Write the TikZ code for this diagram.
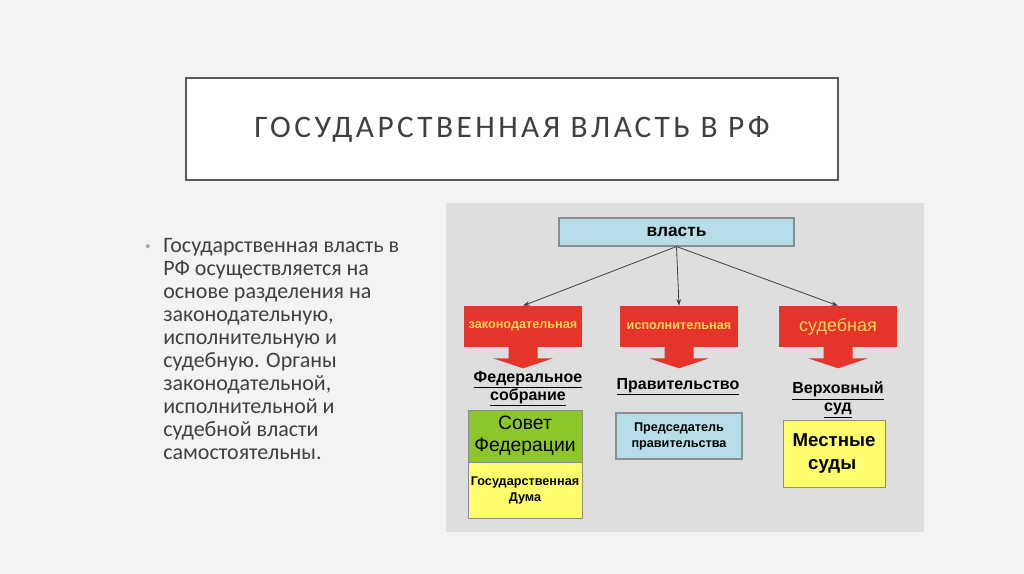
\documentclass[tikz,border=0pt]{standalone}
\usepackage{fontspec}
\setmainfont{Liberation Sans}
\newfontfamily\slidefont{Carlito}
\newfontfamily\titlefont[LetterSpace=11]{Carlito}
\usepackage{tikz}
\usetikzlibrary{arrows.meta,positioning,calc}
\definecolor{bg}{RGB}{243,243,243}
\definecolor{pn}{RGB}{222,222,222}
\definecolor{tx}{RGB}{64,64,64}
\definecolor{fr}{RGB}{89,89,89}
\definecolor{cy}{RGB}{183,222,232}
\definecolor{rd}{RGB}{230,52,42}
\definecolor{ye}{RGB}{255,214,90}
\definecolor{gn}{RGB}{140,198,40}
\definecolor{yl}{RGB}{255,255,110}
\definecolor{ln}{RGB}{140,140,140}

\begin{document}
\begin{tikzpicture}[x=0.75pt,y=-0.75pt,
  cyanbox/.style={draw=ln,fill=cy,line width=0.8pt,inner sep=0pt},
  redbox/.style={fill=rd,text=ye,minimum width=88.5pt,minimum height=30.75pt,inner sep=0pt},
  organ/.style={align=center,font=\bfseries\fontsize{12}{13.5}\selectfont},
  conn/.style={-{Stealth[length=5pt,width=3.5pt]},draw=black!75,line width=0.6pt}]
  \useasboundingbox (0,0) rectangle (1024,574);
  \fill[bg] (0,0) rectangle (1024,574);

  % title
  \node[draw=fr,fill=white,line width=1.5pt,minimum width=489pt,minimum height=76.5pt,
    text=tx,font=\titlefont\fontsize{23.5}{26}\selectfont] (title) at (512,129)
    {ГОСУДАРСТВЕННАЯ ВЛАСТЬ В РФ};

  % left text
  \node[text=black!35,font=\fontsize{11}{12}\selectfont] (dot) at (148,248) {•};
  \node[anchor=north west,align=left,text=tx,inner sep=0pt,
    font=\slidefont\fontsize{16.5}{17.3}\selectfont] (txt) at (163,238)
    {Государственная власть в\\ РФ осуществляется на\\ основе разделения на\\
     законодательную,\\ исполнительную и\\ судебную. Органы\\ законодательной,\\
     исполнительной и\\ судебной власти\\ самостоятельны.};

  % diagram
  \fill[pn] (446,203) rectangle (924,532);
  \node[cyanbox,minimum width=176.25pt,minimum height=21pt,
    font=\bfseries\fontsize{13}{15}\selectfont] (vl) at (676.5,232) {власть};

  \node[redbox,font=\bfseries\fontsize{9.5}{11}\selectfont] (leg) at (523,326.5) {законодательная};
  \node[redbox,font=\bfseries\fontsize{9.5}{11}\selectfont] (exe) at (679,326.5) {исполнительная};
  \node[redbox,font=\fontsize{13.5}{15}\selectfont] (jud) at (838,326.5) {судебная};
  \foreach \b in {leg,exe,jud}
    \fill[rd] ($(\b.south)+(-14.5,-1)$) -- ++(0,12) -- ++(-15.5,0) -- ($(\b.south)+(0,21)$)
      -- ($(\b.south)+(30,11)$) -- ++(-15.5,0) -- ++(0,-12) -- cycle;

  \draw[conn] (vl.south) -- (leg.north);
  \draw[conn] (vl.south) -- (exe.north);
  \draw[conn] (vl.south) -- (jud.north);

  \node[organ] (fs) at (528,389) {\underline{Федеральное}\\\underline{собрание}};
  \node[organ] (pr) at (678,387) {\underline{Правительство}};
  \node[organ] (vs) at (838,400) {\underline{Верховный}\\\underline{суд}};

  \node[draw=ln,fill=gn,minimum width=85.5pt,minimum height=39pt,inner sep=0pt,align=center,
    font=\fontsize{14.5}{16.5}\selectfont] (sf) at (525,436) {Совет\\Федерации};
  \node[draw=ln,fill=yl,minimum width=85.5pt,minimum height=42pt,inner sep=0pt,align=center,
    font=\bfseries\fontsize{9.5}{12}\selectfont,below=0pt of sf] (gd) {Государственная\\Дума};
  \node[cyanbox,minimum width=94.5pt,minimum height=34.5pt,align=center,
    font=\bfseries\fontsize{9.5}{12}\selectfont] (pd) at (679,436) {Председатель\\правительства};
  \node[draw=ln,fill=yl,minimum width=76.5pt,minimum height=50.25pt,inner sep=0pt,align=left,
    font=\bfseries\fontsize{14}{17}\selectfont] (ms) at (834,453.5) {Местные\\\ \ \ суды};
\end{tikzpicture}
\end{document}
